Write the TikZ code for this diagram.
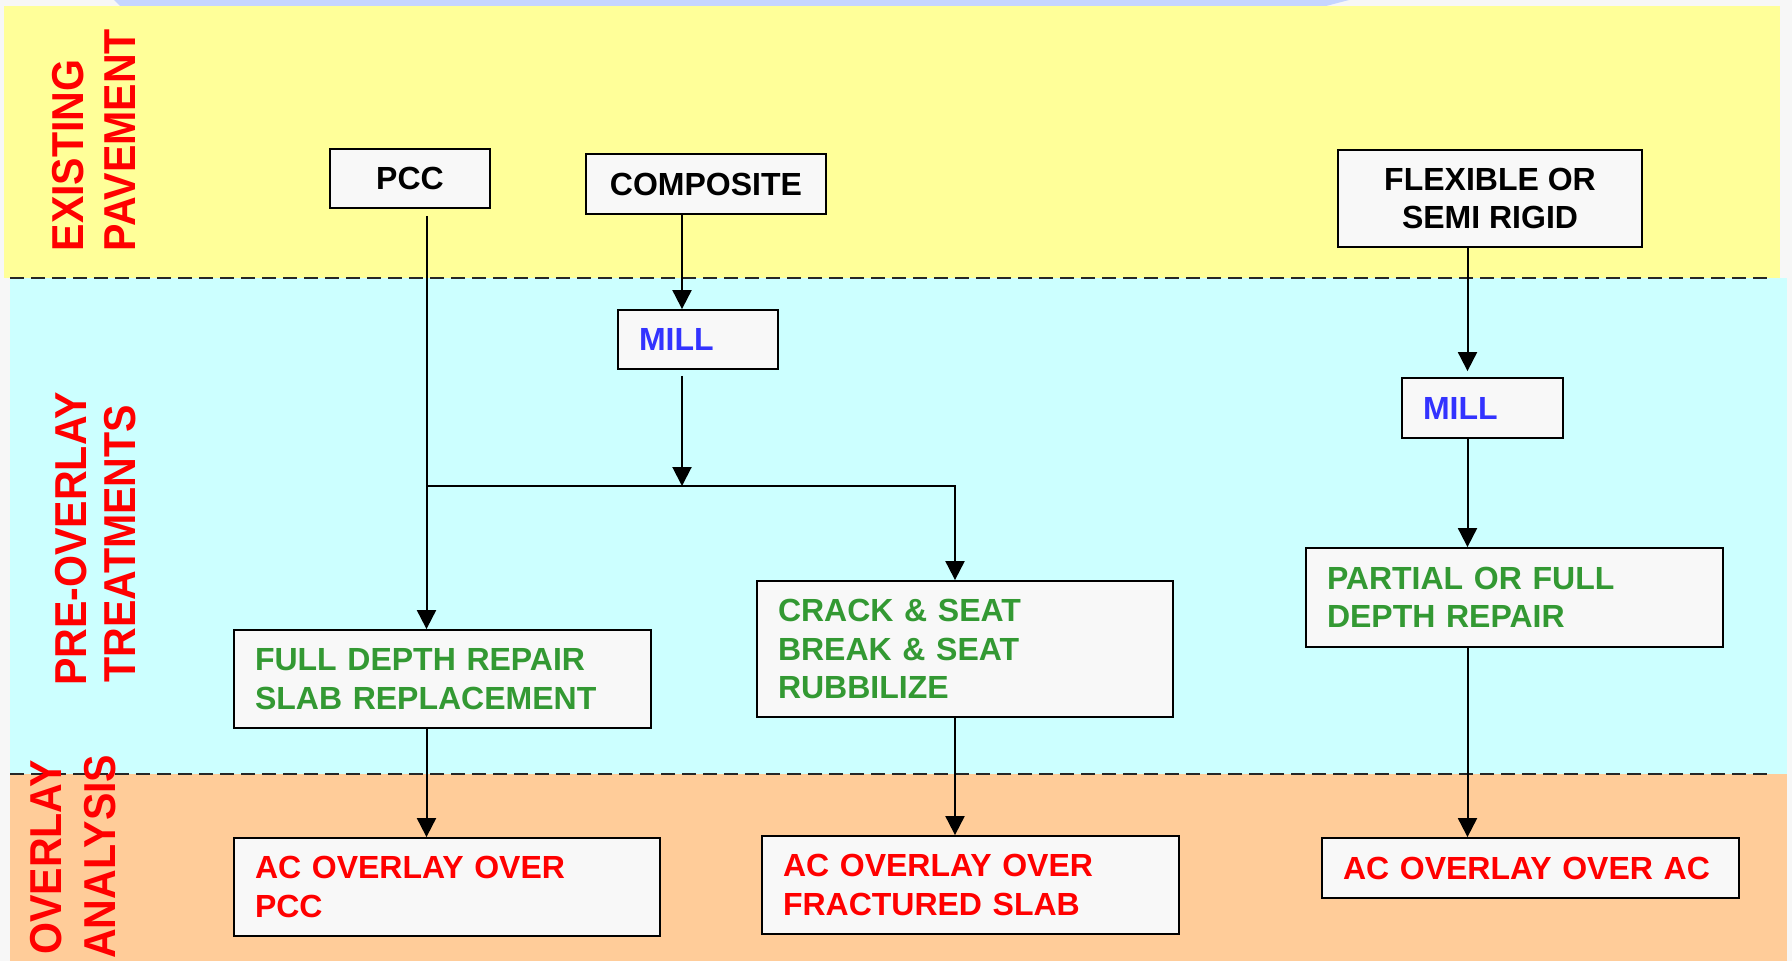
\documentclass[tikz,border=0pt]{standalone}
\usepackage{fontspec}
\setmainfont{Liberation Sans}
\newfontfamily\labfont{Liberation Sans}[FakeStretch=0.92]
\usetikzlibrary{arrows.meta,calc}
\definecolor{bggray}{HTML}{F7F7F7}
\definecolor{stripblue}{HTML}{C6D5FF}
\definecolor{bandyellow}{HTML}{FFFF99}
\definecolor{bandcyan}{HTML}{CCFFFF}
\definecolor{bandorange}{HTML}{FFCC99}
\definecolor{boxfill}{HTML}{F8F8F8}
\definecolor{tgreen}{HTML}{339933}
\definecolor{tblue}{HTML}{3333FF}
\definecolor{tred}{HTML}{FF0000}
\tikzset{
  box/.style={draw=black, line width=1.8pt, fill=boxfill, inner ysep=0pt,
    font=\fontsize{32}{38.5}\selectfont\bfseries},
  lbox/.style 2 args={box, text width=#1pt, minimum height=#2pt, inner xsep=21pt, align=left},
  cbox/.style 2 args={box, minimum width=#1pt, minimum height=#2pt, inner xsep=0pt, align=center, text=black},
  arr/.style={line width=2pt, draw=black, -{Triangle[width=19pt,length=19pt]}},
  dashline/.style={line width=1.6pt, draw=black!85, dash pattern=on 14pt off 7pt},
  lab/.style={text=tred, inner sep=0pt, font=\labfont\fontsize{44.7}{50}\selectfont\bfseries}
}
\begin{document}
\begin{tikzpicture}[x=1pt,y=-1pt]
\useasboundingbox (0,0) rectangle (1792,961);
\begin{scope}
\clip (0,0) rectangle (1792,961);
% backgrounds
\fill[bggray] (0,0) rectangle (1792,961);
\fill[stripblue] (114,0) -- (1349,0) -- (1326,6) -- (120,6) -- cycle;
\fill[bandyellow] (3.5,5.5) rectangle (1780,278);
\fill[bandcyan] (10,278) rectangle (1787,774);
\fill[bandorange] (10,774) rectangle (1787,961);
\draw[dashline] (10,278) -- (1772,278);
\draw[dashline] (10,774) -- (1772,774);
% side labels
\node[lab, anchor=base west, rotate=90] (l1) at (83.5,251.5) {EXISTING};
\node[lab, anchor=base west, rotate=90] (l2) at (135,251.5) {PAVEMENT};
\node[lab, anchor=base west, rotate=90] (l3) at (86,686) {PRE-OVERLAY};
\node[lab, anchor=base west, rotate=90] (l4) at (135,683) {TREATMENTS};
\node[lab, anchor=base west, rotate=90] (l5) at (61,955) {OVERLAY};
\node[lab, anchor=base west, rotate=90] (l6) at (115,959) {ANALYSIS};
\end{scope}
% boxes
\node[cbox={160}{59}] (pcc) at (410,178.5) {PCC};
\node[cbox={240}{60}] (comp) at (706,184) {COMPOSITE};
\node[cbox={304}{97}] (flex) at (1490,198.5) {FLEXIBLE OR\\SEMI RIGID};
\node[lbox={118}{59}, text=tblue] (millL) at (698,339.5) {MILL};
\node[lbox={119}{60}, text=tblue] (millR) at (1482.5,408) {MILL};
\node[lbox={375}{98}, text=tgreen] (fdr) at (442.5,679) {FULL DEPTH REPAIR\\SLAB REPLACEMENT};
\node[lbox={374}{136}, text=tgreen] (crack) at (965,649) {CRACK \& SEAT\\BREAK \& SEAT\\RUBBILIZE};
\node[lbox={375}{99}, text=tgreen] (partial) at (1514.5,597.5) {PARTIAL OR FULL\\DEPTH REPAIR};
\node[lbox={384}{98}, text=tred] (acpcc) at (447,887) {AC OVERLAY OVER\\PCC};
\node[lbox={375}{98}, text=tred] (acfrac) at (970.5,885) {AC OVERLAY OVER\\FRACTURED SLAB};
\node[lbox={375}{60}, text=tred] (acac) at (1530.5,868) {AC OVERLAY OVER AC};
% connector helpers
\coordinate (j) at (426.5,486);
\coordinate (jr) at (955,486);
\coordinate (cx) at (682,0);
\coordinate (fx) at (1467.5,0);
% connectors
\draw[arr, shorten <=7pt] (pcc.south -| j) -- (fdr.north -| j);
\draw[arr] (j) -- (jr) -- (crack.north -| jr);
\draw[arr] (comp.south -| cx) -- (millL.north -| cx);
\draw[arr, shorten <=6pt] (millL.south -| cx) -- (j -| cx);
\draw[arr, shorten >=6pt] (flex.south -| fx) -- (millR.north -| fx);
\draw[arr] (millR.south -| fx) -- (partial.north -| fx);
\draw[arr] (partial.south -| fx) -- (acac.north -| fx);
\draw[arr] (fdr.south -| j) -- (acpcc.north -| j);
\draw[arr] (crack.south -| jr) -- (acfrac.north -| jr);
\end{tikzpicture}
\end{document}
